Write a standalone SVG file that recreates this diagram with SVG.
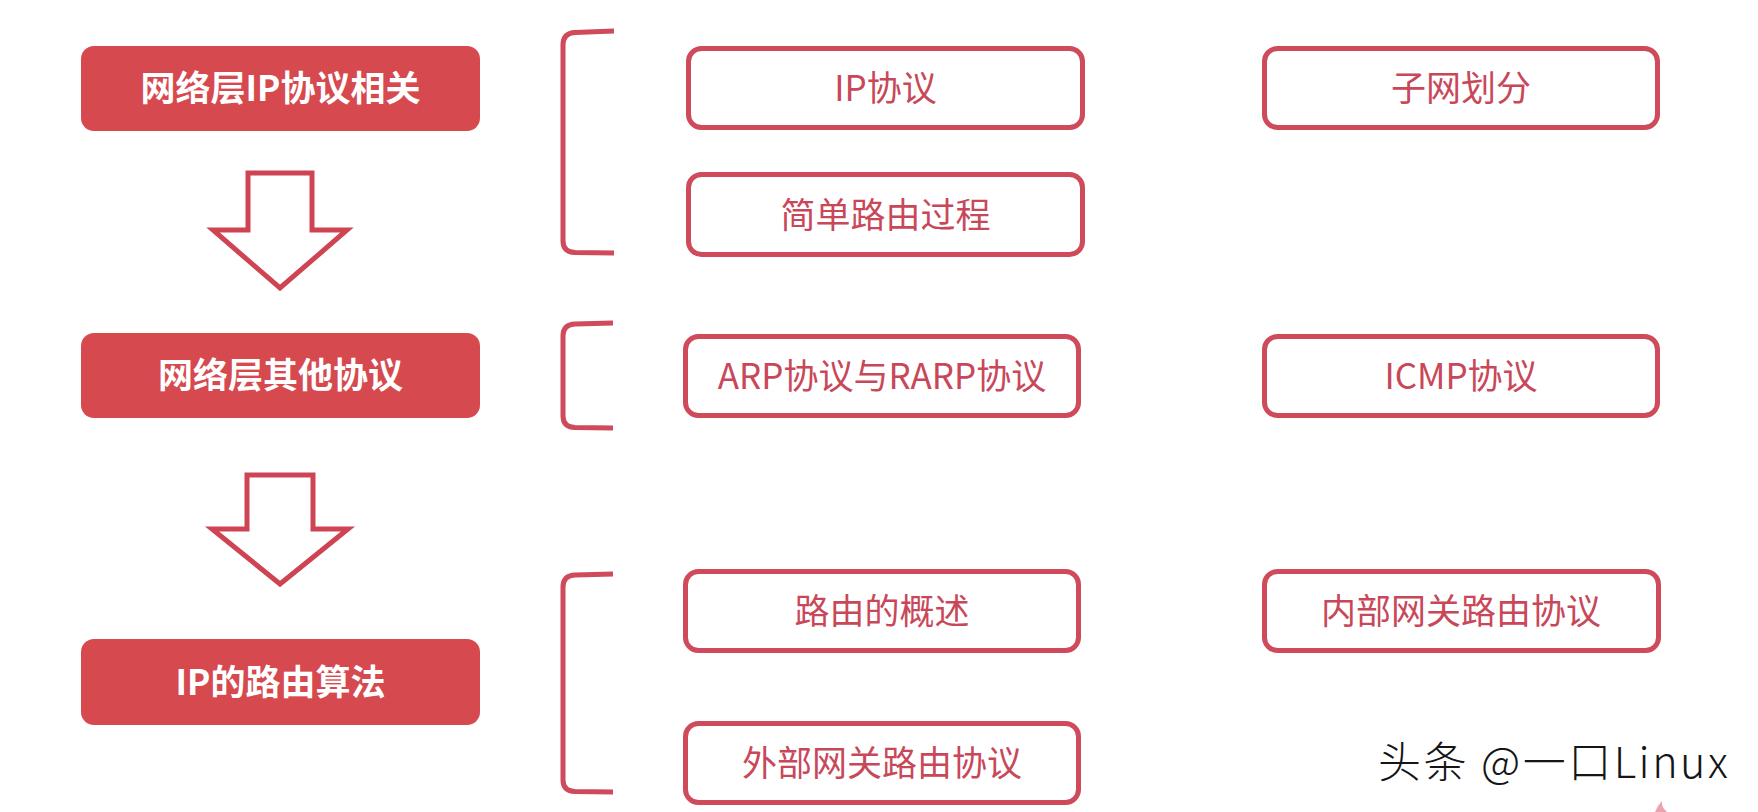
<svg xmlns="http://www.w3.org/2000/svg" width="1758" height="812" viewBox="0 0 1758 812">
<defs>
<style>
.hd rect{fill:#d6494f;}
.hd text{fill:#ffffff;font-family:"Noto Sans CJK SC","Noto Sans",sans-serif;font-weight:700;font-size:35px;text-anchor:middle;}
.bx rect{fill:#ffffff;stroke:#cf4a5a;stroke-width:5;}
.bx text{fill:#c8485a;font-family:"Noto Sans CJK SC","Noto Sans",sans-serif;font-size:35px;text-anchor:middle;}
.arr{fill:#ffffff;stroke:#cf4452;stroke-width:5;stroke-linejoin:miter;}
.brk{fill:none;stroke:#cf4a5a;stroke-width:5;stroke-linecap:butt;}
</style>
</defs>
<rect width="1758" height="812" fill="#ffffff"/>

<g id="n-ip-related" class="hd"><rect x="81" y="46" width="399" height="85" rx="13"/><text x="280.5" y="101">网络层IP协议相关</text></g>
<g id="n-other" class="hd"><rect x="81" y="333" width="399" height="85" rx="13"/><text x="280.5" y="388">网络层其他协议</text></g>
<g id="n-routing" class="hd"><rect x="81" y="639" width="399" height="86" rx="13"/><text x="280.5" y="694.5">IP的路由算法</text></g>

<g id="n-ip" class="bx"><rect x="688.5" y="48.5" width="394" height="79" rx="13"/><text x="885.5" y="101">IP协议</text></g>
<g id="n-subnet" class="bx"><rect x="1264.5" y="48.5" width="393" height="79" rx="13"/><text x="1461" y="101">子网划分</text></g>
<g id="n-simple" class="bx"><rect x="688.5" y="174.5" width="394" height="80" rx="13"/><text x="885.5" y="227.5">简单路由过程</text></g>
<g id="n-arp" class="bx"><rect x="685.5" y="336.5" width="393" height="79" rx="13"/><text x="882" y="388.5">ARP协议与RARP协议</text></g>
<g id="n-icmp" class="bx"><rect x="1264.5" y="336.5" width="393" height="79" rx="13"/><text x="1461" y="389">ICMP协议</text></g>
<g id="n-overview" class="bx"><rect x="685.5" y="571.5" width="393" height="79" rx="13"/><text x="882" y="624">路由的概述</text></g>
<g id="n-igp" class="bx"><rect x="1264.5" y="571.5" width="394" height="79" rx="13"/><text x="1461" y="624">内部网关路由协议</text></g>
<g id="n-egp" class="bx"><rect x="685.5" y="723.5" width="393" height="79" rx="13"/><text x="882" y="776">外部网关路由协议</text></g>

<g id="connectors">
<polygon class="arr" points="248,173 312,173 312,230 347,230 280,288 213,230 248,230"/>
<polygon class="arr" points="247,475 313,475 313,529 348,529 280,584 212,529 247,529"/>
<path class="brk" d="M614,31 L575,32.5 Q563,33 563,45 L563,241 Q563,252 575,252.5 L614,253"/>
<path class="brk" d="M613,323 L575,324 Q563,324.5 563,336 L563,416 Q563,427 575,427.5 L613,428"/>
<path class="brk" d="M613,574 L575,575 Q563,575.5 563,587 L563,780 Q563,791 575,791.5 L613,792"/>
</g>

<g id="watermark">
<text x="1378" y="778" font-family="'Noto Sans CJK SC','Noto Sans',sans-serif" font-size="43" font-weight="300" letter-spacing="2.5" fill="#151515">头条 @一口Linux</text>
<path d="M1655,812 Q1657,806 1662,801 Q1661,807 1667,812 Z" fill="#eea2b0"/>
</g>
</svg>
